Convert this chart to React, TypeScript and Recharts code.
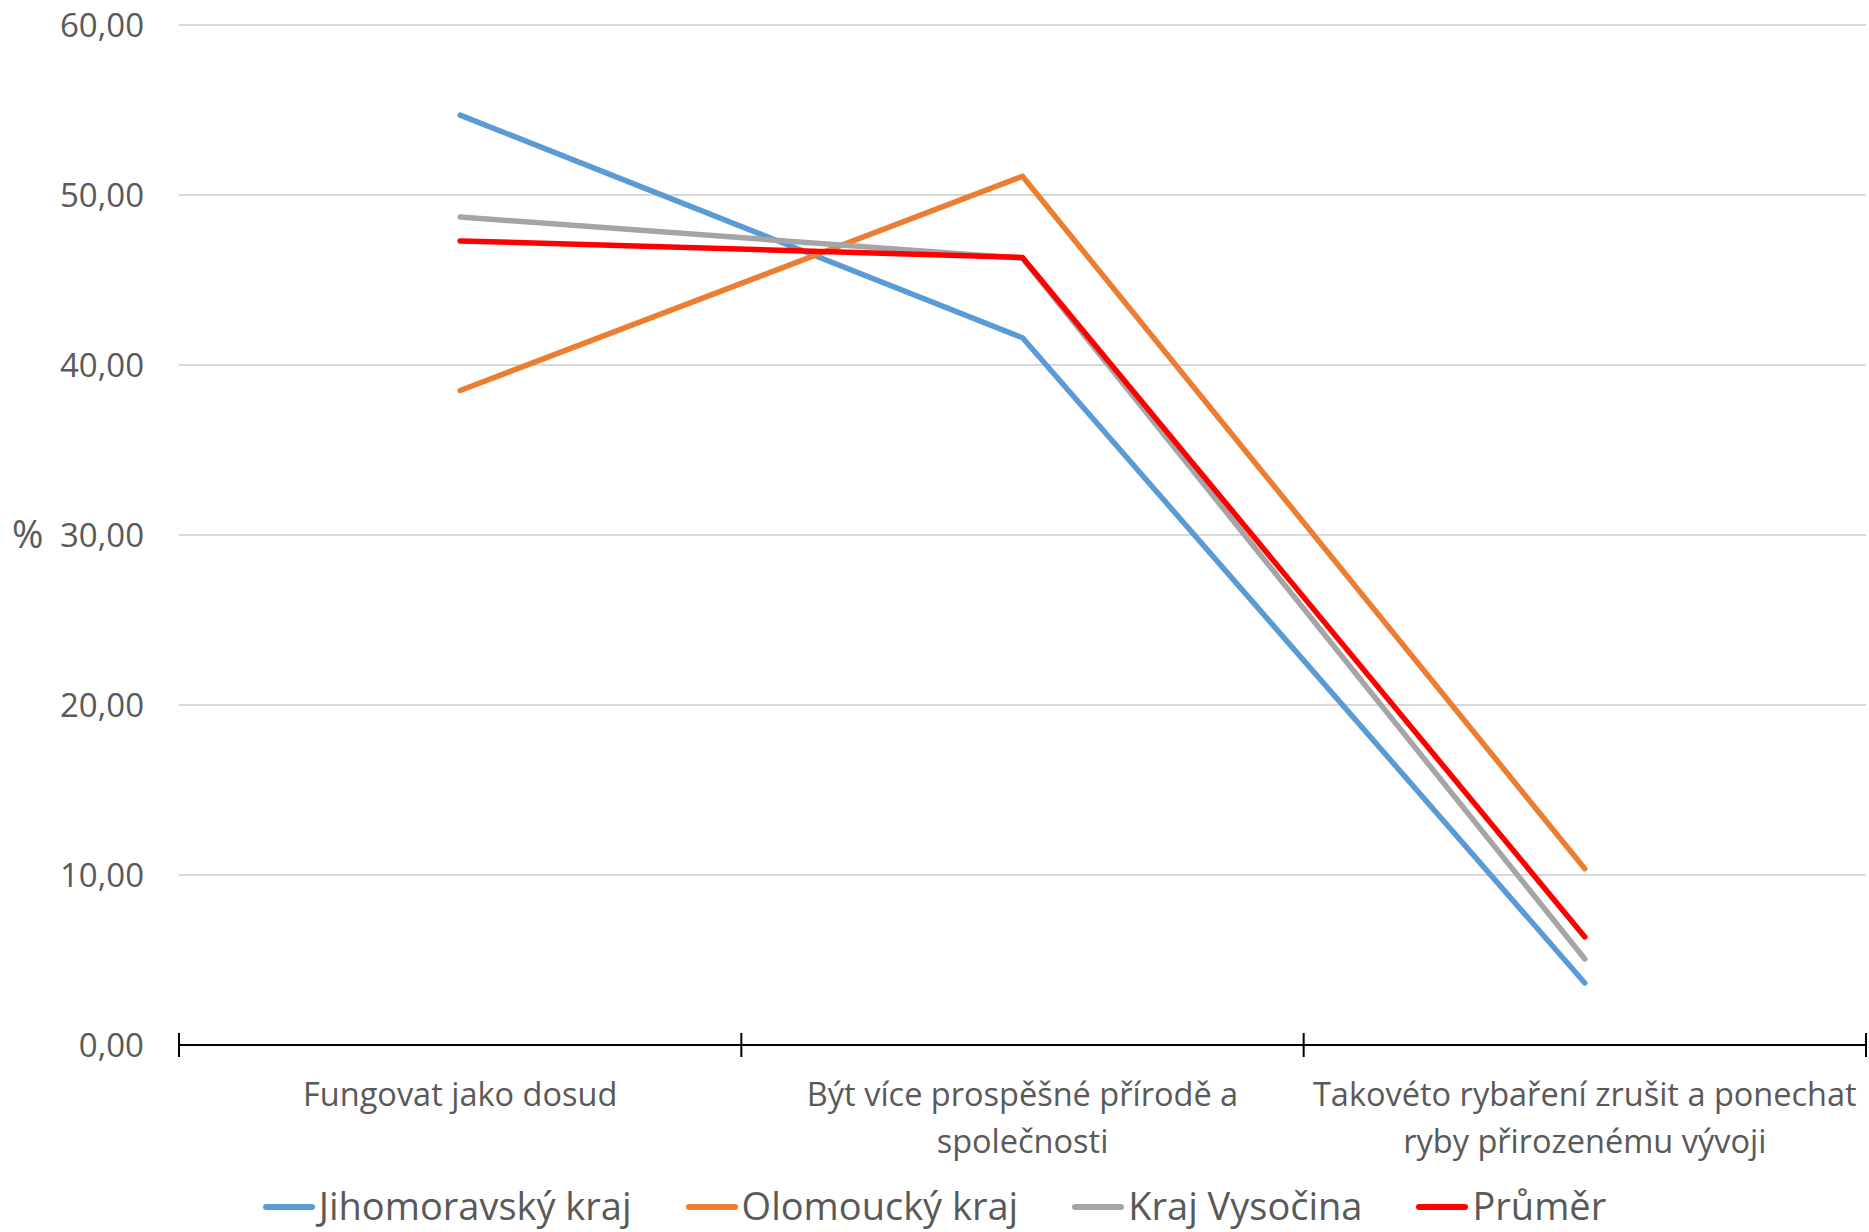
import React from "react";
import { LineChart, Line, XAxis, YAxis, CartesianGrid, Legend } from "recharts";

const categories = [
  "Fungovat jako dosud",
  "Být více prospěšné přírodě a\nspolečnosti",
  "Takovéto rybaření zrušit a ponechat\nryby přirozenému vývoji",
];
const jihomoravsky = [54.7, 41.6, 3.65];
const olomoucky = [38.5, 51.1, 10.37];
const vysocina = [48.7, 46.28, 5.06];
const prumer = [47.3, 46.33, 6.36];
const yTicks = [0, 10, 20, 30, 40, 50, 60];

const seriesDefs = [
  { key: "jm", name: "Jihomoravský kraj", color: "#5b9bd5", values: jihomoravsky },
  { key: "ol", name: "Olomoucký kraj", color: "#ed7d31", values: olomoucky },
  { key: "vy", name: "Kraj Vysočina", color: "#a5a5a5", values: vysocina },
  { key: "pr", name: "Průměr", color: "#ff0000", values: prumer },
];

const data = categories.map((c, i) => {
  const row: Record<string, string | number> = { name: c };
  seriesDefs.forEach((s) => (row[s.key] = s.values[i]));
  return row;
});

const FONT = "'Open Sans', 'Noto Sans', sans-serif";
const TEXT = "#595959";
const W = 1869;
const H = 1232;
const PLOT_LEFT = 179;
const PLOT_RIGHT = 3;

/** kategorie s tickem na hranicích pásem */
function CategoryTick(props: any) {
  const { x, y, payload, index, visibleTicksCount } = props;
  const half =
    payload?.offset ?? (W - PLOT_LEFT - PLOT_RIGHT) / categories.length / 2;
  const lines = String(payload.value).split("\n");
  return (
    <g>
      <line x1={x - half} x2={x - half} y1={y - 12} y2={y + 12} stroke="#000" strokeWidth={2} />
      {index === visibleTicksCount - 1 && (
        <line x1={x + half} x2={x + half} y1={y - 12} y2={y + 12} stroke="#000" strokeWidth={2} />
      )}
      <text x={x} y={y + 61} textAnchor="middle" fill={TEXT} fontSize={32.5} fontFamily={FONT}>
        {lines.map((l, i) => (
          <tspan key={i} x={x} dy={i === 0 ? 0 : 47}>
            {l}
          </tspan>
        ))}
      </text>
    </g>
  );
}

function LegendContent() {
  return (
    <div
      style={{
        height: 44,
        display: "flex",
        justifyContent: "center",
        alignItems: "flex-start",
        gap: 54,
        fontFamily: FONT,
        fontSize: 38,
        lineHeight: "40px",
        color: TEXT,
      }}
    >
      {seriesDefs.map((s) => (
        <div key={s.key} style={{ display: "flex", alignItems: "center", gap: 4, height: 40 }}>
          <span
            style={{
              display: "inline-block",
              width: 52,
              height: 6,
              borderRadius: 3,
              marginTop: 4,
              backgroundColor: s.color,
            }}
          />
          {s.name}
        </div>
      ))}
    </div>
  );
}

export default function App() {
  return (
    <div style={{ position: "absolute", left: 0, top: 0, width: W, height: H, background: "#fff" }}>
      <LineChart
        width={W}
        height={H}
        data={data}
        margin={{ top: 25, right: PLOT_RIGHT, bottom: 0, left: 0 }}
      >
        <CartesianGrid vertical={false} stroke="#d9d9d9" strokeWidth={2} />
        <XAxis
          dataKey="name"
          scale="band"
          height={143}
          axisLine={{ stroke: "#000", strokeWidth: 2 }}
          tickLine={false}
          tickSize={0}
          tickMargin={0}
          interval={0}
          tick={<CategoryTick />}
        />
        <YAxis
          width={PLOT_LEFT}
          domain={[0, 60]}
          ticks={yTicks}
          axisLine={false}
          tickLine={false}
          tickSize={0}
          tickMargin={35}
          tickFormatter={(v: number) => v.toFixed(2).replace(".", ",")}
          tick={{ fill: TEXT, fontSize: 33, fontFamily: FONT }}
          label={{
            value: "%",
            position: "insideLeft",
            offset: 12,
            fill: TEXT,
            fontSize: 38,
            fontFamily: FONT,
          }}
        />
        <Legend
          verticalAlign="bottom"
          content={<LegendContent />}
          wrapperStyle={{ left: 0, width: W, bottom: 3 }}
        />
        {seriesDefs.map((s) => (
          <Line
            key={s.key}
            dataKey={s.key}
            name={s.name}
            stroke={s.color}
            strokeWidth={5.5}
            strokeLinecap="round"
            strokeLinejoin="round"
            dot={false}
            activeDot={false}
            isAnimationActive={false}
          />
        ))}
      </LineChart>
    </div>
  );
}
